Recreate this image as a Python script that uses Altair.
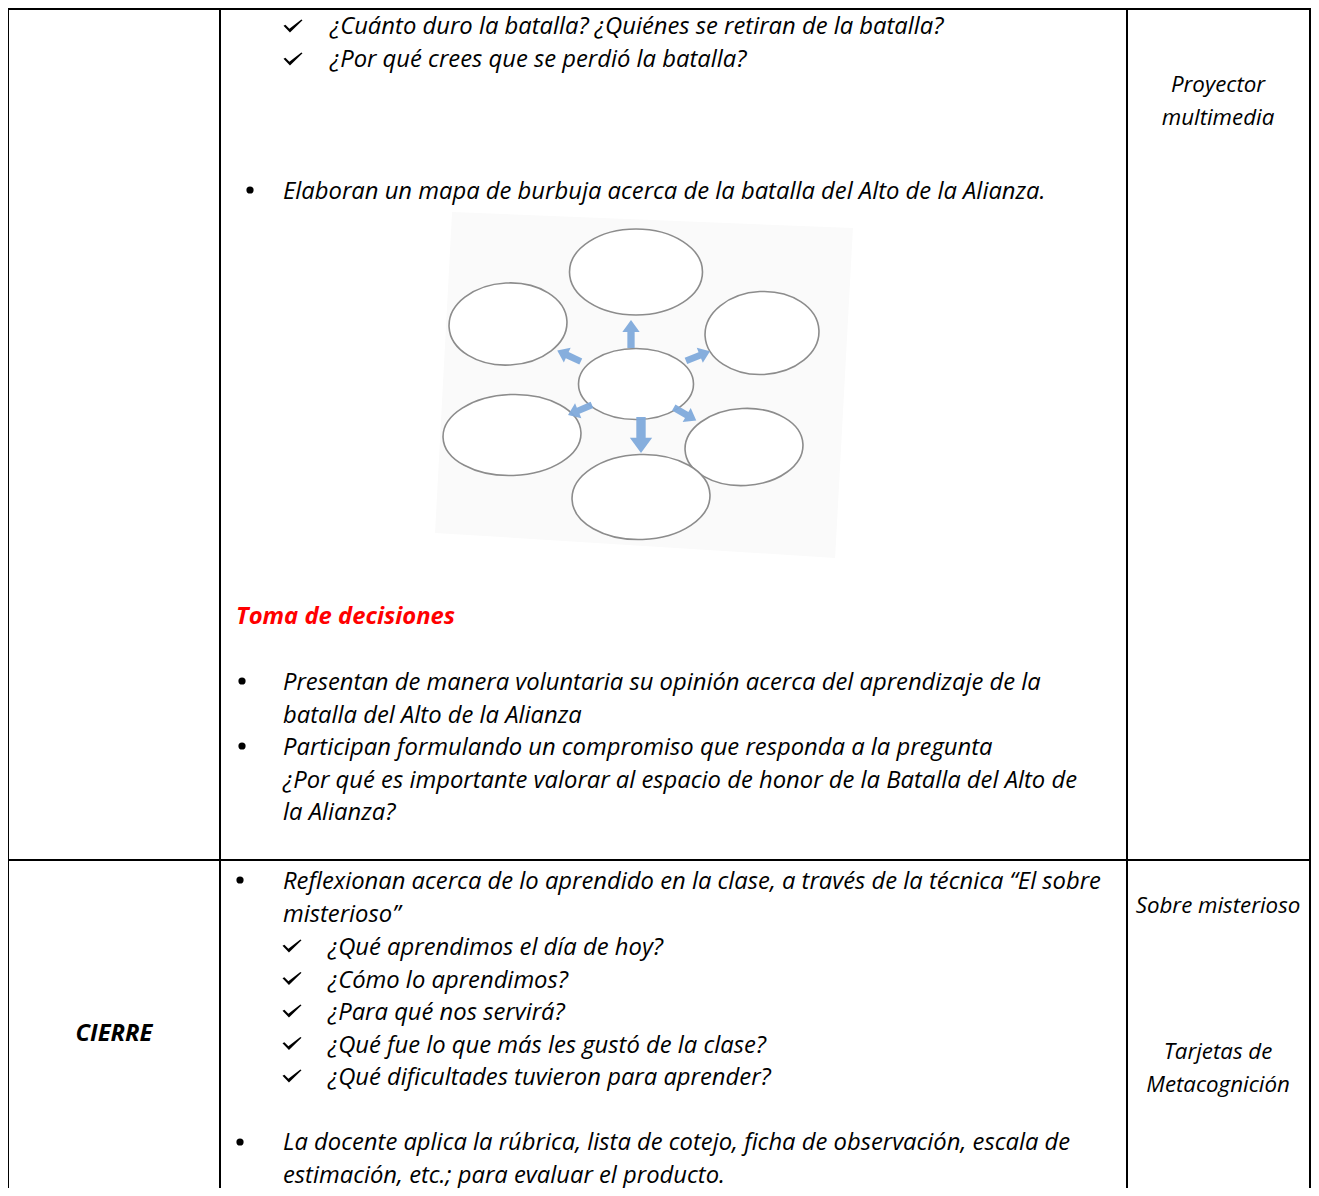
import altair as alt
import pandas as pd

# ---------------- content ----------------
row1_checks = [
    "¿Cuánto duro la batalla? ¿Quiénes se retiran de la batalla?",
    "¿Por qué crees que se perdió la batalla?",
]
row1_bullet1 = ["Elaboran un mapa de burbuja acerca de la batalla del Alto de la Alianza."]
heading = "Toma de decisiones"
row1_bullet2 = [
    "Presentan de manera voluntaria su opinión acerca del aprendizaje de la",
    "batalla del Alto de la Alianza",
]
row1_bullet3 = [
    "Participan formulando un compromiso que responda a la pregunta",
    "¿Por qué es importante valorar al espacio de honor de la Batalla del Alto de",
    "la Alianza?",
]
row2_label = "CIERRE"
row2_bullet1 = [
    "Reflexionan acerca de lo aprendido en la clase, a través de la técnica “El sobre",
    "misterioso”",
]
row2_checks = [
    "¿Qué aprendimos el día de hoy?",
    "¿Cómo lo aprendimos?",
    "¿Para qué nos servirá?",
    "¿Qué fue lo que más les gustó de la clase?",
    "¿Qué dificultades tuvieron para aprender?",
]
row2_bullet2 = [
    "La docente aplica la rúbrica, lista de cotejo, ficha de observación, escala de",
    "estimación, etc.; para evaluar el producto.",
]
resources1 = ["Proyector", "multimedia"]
resources2a = ["Sobre misterioso"]
resources2b = ["Tarjetas de", "Metacognición"]

# bubble map: ellipse (cx, cy, width, height), arrows (x, y, length, angle)
bubble_cx = [636, 508, 762, 636, 512, 744, 641]
bubble_cy = [272, 324, 333, 384, 435, 447, 497]
bubble_w = [133, 118, 114, 115, 138, 118, 138]
bubble_h = [86, 82, 83, 71, 81, 77, 85]
bubble_rot = [0, -3, -3, 0, -2, -3, -2]
arrow_x = [631, 641, 569, 698, 580, 685]
arrow_y = [334, 435, 356, 356, 410, 414]
arrow_len = [28, 36, 26, 26, 26, 26]
arrow_ang = [270, 90, 205, 338, 157, 30]

# ---------------- layout ----------------
W, H = 1303, 1180
FONT = "Open Sans"
FS = 23.8
FS_RIGHT = 22.3
LH = 32.5
col_x = [8, 220, 1127, 1310]
row_y = [9, 860]

texts = []
marks_bul = []
marks_chk = []


def add_lines(lines, x, y0, **kw):
    for i, t in enumerate(lines):
        texts.append(dict(x=x, y=y0 + i * LH, t=t, align=kw.get("align", "left"),
                          weight=kw.get("weight", "normal"), color=kw.get("color", "#000000"),
                          fs=kw.get("fs", FS)))


# row 1
for i, t in enumerate(row1_checks):
    marks_chk.append(dict(x=293, y=34 + i * 33 - 8))
    add_lines([t], 330, 34 + i * 33)
marks_bul.append(dict(x=250, y=190))
add_lines(row1_bullet1, 283, 199)
add_lines([heading], 236, 624, weight="bold", color="#ff0000")
marks_bul.append(dict(x=242, y=681))
add_lines(row1_bullet2, 283, 690)
marks_bul.append(dict(x=242, y=746))
add_lines(row1_bullet3, 283, 755)
add_lines(resources1, 1218, 92, align="center", fs=FS_RIGHT)

# row 2
add_lines([row2_label], 114, 1041, align="center", weight="bold")
marks_bul.append(dict(x=240, y=880))
add_lines(row2_bullet1, 283, 889)
for i, t in enumerate(row2_checks):
    marks_chk.append(dict(x=292, y=955 + i * LH - 9))
    add_lines([t], 328, 955 + i * LH)
marks_bul.append(dict(x=240, y=1142))
add_lines(row2_bullet2, 283, 1150)
add_lines(resources2a, 1218, 913, align="center", fs=FS_RIGHT)
add_lines(resources2b, 1218, 1059, align="center", fs=FS_RIGHT)

xs = alt.Scale(domain=[8, 8 + W], range=[0, W])
ys = alt.Scale(domain=[8, 8 + H], range=[0, H])
X = lambda f: alt.X(f, type="quantitative", scale=xs, axis=None)
Y = lambda f: alt.Y(f, type="quantitative", scale=ys, axis=None)

layers = []

# faint picture background of the bubble map
bg_df = pd.DataFrame(dict(x=[644], y=[383], size=[420 ** 2]))
bg_path = "M -0.914 -0.814 L 0.995 -0.738 L 0.910 0.833 L -0.995 0.714 Z"
layers.append(alt.Chart(bg_df).mark_point(filled=True, shape=bg_path, color="#fafafa", opacity=1,
                                          strokeWidth=0).encode(
    x=X("x"), y=Y("y"), size=alt.Size("size:Q", scale=None)))

# table lines
rules = []
for cx in col_x:
    rules.append(dict(x=cx, x2=cx, y=row_y[0] - 1, y2=8 + H))
for ry in row_y:
    rules.append(dict(x=col_x[0] - 1, x2=col_x[-1] + 1, y=ry, y2=ry))
rule_df = pd.DataFrame(rules)
layers.append(alt.Chart(rule_df).mark_rule(color="#000000", strokeWidth=2).encode(
    x=X("x"), x2="x2", y=Y("y"), y2="y2"))

# text layers
tdf = pd.DataFrame(texts)
for (al, wt, fs), sub in tdf.groupby(["align", "weight", "fs"]):
    layers.append(
        alt.Chart(sub).mark_text(align=al, baseline="alphabetic", font=FONT, fontSize=float(fs),
                                 fontStyle="italic", fontWeight=wt).encode(
            x=X("x"), y=Y("y"), text="t:N", color=alt.Color("color:N", scale=None))
    )

bul_df = pd.DataFrame(marks_bul)
layers.append(alt.Chart(bul_df).mark_point(shape="circle", filled=True, size=52, color="#000000",
                                           opacity=1).encode(x=X("x"), y=Y("y")))

chk_df = pd.DataFrame(marks_chk)
chk_df["size"] = 19 ** 2
check_path = "M -1 -0.02 L -0.8 -0.14 L -0.38 0.3 L 0.88 -0.68 L 1 -0.6 L -0.32 0.68 Z"
layers.append(alt.Chart(chk_df).mark_point(filled=True, shape=check_path, color="#000000", opacity=1,
                                           strokeWidth=0).encode(
    x=X("x"), y=Y("y"), size=alt.Size("size:Q", scale=None)))

# bubble map
bdf = pd.DataFrame(dict(x=bubble_cx, y=bubble_cy, w=bubble_w, h=bubble_h, rot=bubble_rot))
bdf["size"] = bdf["w"] ** 2
bdf["shape"] = [
    f"M -1 0 A 1 {h / w:.4f} 0 1 0 1 0 A 1 {h / w:.4f} 0 1 0 -1 0 Z" for w, h in zip(bubble_w, bubble_h)
]
bdf["ang"] = bdf["rot"] % 360
layers.append(alt.Chart(bdf).mark_point(filled=True, fill="#ffffff", stroke="#8c8c8c", strokeWidth=1.6,
                                        opacity=1, fillOpacity=1).encode(
    x=X("x"), y=Y("y"), size=alt.Size("size:Q", scale=None),
    shape=alt.Shape("shape:N", scale=None), angle=alt.Angle("ang:Q", scale=None)))

adf = pd.DataFrame(dict(x=arrow_x, y=arrow_y, l=arrow_len, ang=arrow_ang))
adf["size"] = adf["l"] ** 2
arrow_path = "M -1 -0.26 L 0.15 -0.26 L 0.15 -0.62 L 1 0 L 0.15 0.62 L 0.15 0.26 L -1 0.26 Z"
layers.append(alt.Chart(adf).mark_point(filled=True, shape=arrow_path, color="#80aadb", opacity=0.95,
                                        strokeWidth=0).encode(
    x=X("x"), y=Y("y"), size=alt.Size("size:Q", scale=None), angle=alt.Angle("ang:Q", scale=None)))

chart = alt.layer(*layers).properties(
    width=W, height=H, padding=0, autosize=alt.AutoSizeParams(type="none")
).configure_view(stroke=None).configure(background="#ffffff")

chart.save("out.html", embed_options={"renderer": "svg", "actions": False})
